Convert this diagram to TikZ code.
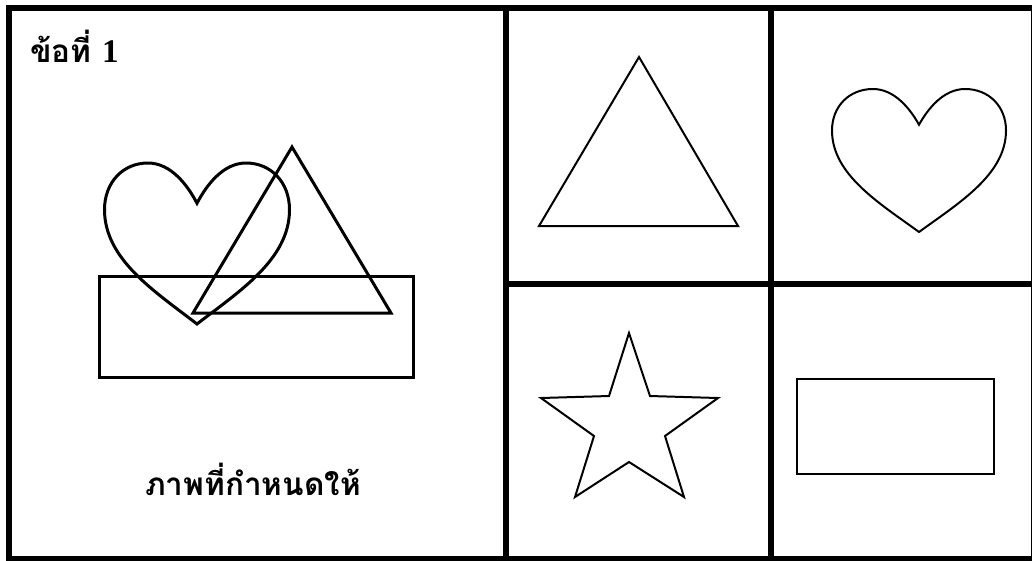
\documentclass[tikz,border=0pt]{standalone}
\usepackage{fontspec}
\newfontfamily\thaifont[Script=Thai]{Loma}
\newfontfamily\numfont{Liberation Serif}
\begin{document}
\begin{tikzpicture}[x=1pt,y=-1pt,
  frame/.style={line width=5.5pt},
  thickshape/.style={line width=3pt,line join=miter},
  thinshape/.style={line width=2pt,line join=miter},
  label/.style={inner sep=0pt,font=\thaifont\bfseries\fontsize{31.5}{34}\selectfont},
  heart/.pic={
    \draw (0,1) .. controls (-0.45,0.8) and (-1,0.6) .. (-1,0.29)
      .. controls (-1,0.12) and (-0.8,0) .. (-0.53,0)
      .. controls (-0.28,0) and (-0.1,0.14) .. (0,0.25)
      .. controls (0.1,0.14) and (0.28,0) .. (0.53,0)
      .. controls (0.8,0) and (1,0.12) .. (1,0.29)
      .. controls (1,0.6) and (0.45,0.8) .. (0,1) -- cycle;
  }]
\useasboundingbox (0,0) rectangle (1032,560);
\fill[white] (0,0) rectangle (1032,560);
% frame
\draw[frame] (9,8) rectangle (1034,559);
\draw[frame] (506,8) -- (506,559);
\draw[frame] (771,8) -- (771,559);
\draw[frame] (506,284) -- (1034,284);
% left panel
\node[label,anchor=base west] (title) at (30,62) {ข้อที่ {\numfont\fontsize{33}{34}\selectfont 1}};
\draw[thickshape] (99,276) rectangle (413,377);
\draw[thickshape] (292,147) -- (391,313) -- (193,313) -- cycle;
\pic[thickshape,xscale=92.5,yscale=161] at (197,163) {heart};
\node[label,anchor=base] (caption) at (253,495) {ภาพที่กำหนดให้};
% right panels
\draw[thinshape] (639,57) -- (738,226) -- (539,226) -- cycle;
\pic[thinshape,xscale=87,yscale=143] at (919,89) {heart};
\draw[thinshape] (629,333) -- (650,396) -- (718,398) -- (665,436) -- (684,497)
  -- (629,462) -- (575,497) -- (594,436) -- (541,398) -- (609,396) -- cycle;
\draw[thinshape] (797,379) rectangle (994,474);
\end{tikzpicture}
\end{document}
